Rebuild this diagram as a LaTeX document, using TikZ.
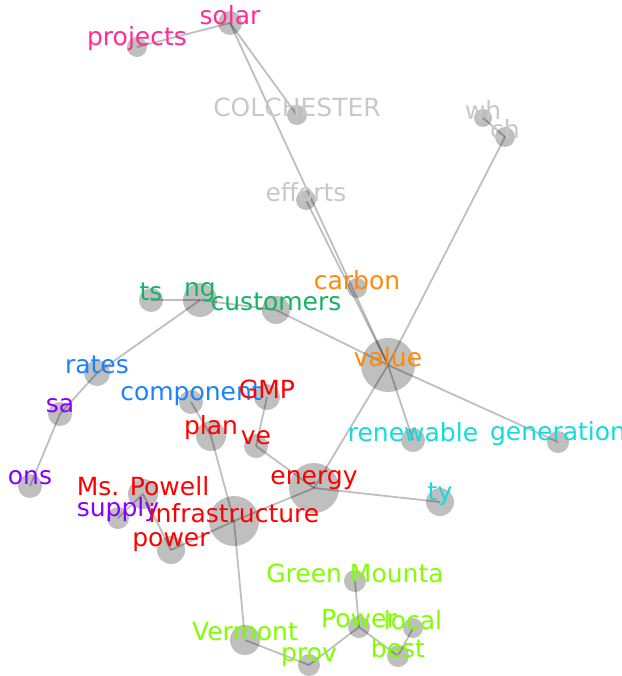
\documentclass[tikz,border=0pt]{standalone}
\usepackage{fontspec}
\setmainfont{DejaVu Sans}
\usepackage{xcolor}
\usepackage{tikz}
\usetikzlibrary{positioning,calc}

\definecolor{cpink}{HTML}{FF2D95}
\definecolor{cgrey}{HTML}{C8C8C8}
\definecolor{corange}{HTML}{FF8A0A}
\definecolor{cgreen}{HTML}{14B464}
\definecolor{cblue}{HTML}{1A82FF}
\definecolor{cpurple}{HTML}{8700FF}
\definecolor{cred}{HTML}{FF0000}
\definecolor{ccyan}{HTML}{14DCDC}
\definecolor{clime}{HTML}{80FF00}

\tikzset{
  dot/.style={circle,fill=black!25,inner sep=0pt},
  edge/.style={draw=black,opacity=0.25,line width=1.8pt},
  word/.style={inner sep=0pt,font=\fontsize{25}{30}\selectfont}
}

\begin{document}
\begin{tikzpicture}[x=1pt,y=-1pt]
  \useasboundingbox (0,0) rectangle (621,676);
  \clip (0,0) rectangle (621,676);
  % nodes: name/x/y/radius
  \foreach \n/\x/\y/\r in {solar/230/23/12, projects/137/47/10, colchester/297/115/10,
      efforts/306/200/10, wh/483/118/9, ch/505/137/10, carbon/357/288/10,
      ts/151/300/12, ng/200/300/17, customers/276/310/14, value/388/365/27,
      rates/97/373/13, sa/60/414/12, ons/30/486/12, component/191/402/12,
      gmp/267/397/13, plan/211/436/15, ve/256/446/12, renewable/413/440/12,
      generation/558/442/11, energy/314/488/25, ty/440/502/14, powell/143/494/15,
      supply/118/518/11, infra/234/521/25, power/171/550/14, greenmt/355/581/11,
      vermont/245/640/15, powerco/359/627/11, local/413/628/10, best/398/656/11,
      prov/309/665/11}
    \node[dot,minimum size=\r*2pt] (\n) at (\x,\y) {};
  % links
  \foreach \a/\b in {solar/projects, solar/colchester, solar/value, efforts/value,
      wh/ch, ch/value, ts/ng, ng/customers, customers/value, ng/rates, rates/sa,
      sa/ons, value/renewable, value/generation, value/energy, energy/ty,
      energy/ve, ve/gmp, energy/infra, component/plan, plan/infra, infra/vermont,
      infra/power, power/powell, powell/supply, vermont/prov, prov/powerco,
      powerco/greenmt, powerco/best, best/local}
    \draw[edge] (\a.center) -- (\b.center);
  % words
  \foreach \n/\t/\c in {solar/solar/cpink, projects/projects/cpink,
      colchester/COLCHESTER/cgrey, efforts/efforts/cgrey, wh/wh/cgrey, ch/ch/cgrey,
      carbon/carbon/corange, value/value/corange,
      ts/ts/cgreen, ng/ng/cgreen, customers/customers/cgreen,
      rates/rates/cblue, component/component/cblue,
      sa/sa/cpurple, ons/ons/cpurple, supply/supply/cpurple,
      gmp/GMP/cred, plan/plan/cred, ve/ve/cred, energy/energy/cred,
      powell/Ms. Powell/cred, infra/infrastructure/cred, power/power/cred,
      renewable/renewable/ccyan, generation/generation/ccyan, ty/ty/ccyan,
      greenmt/Green Mounta/clime, vermont/Vermont/clime, powerco/Power/clime,
      local/local/clime, best/best/clime, prov/prov/clime}
    \node[word,text=\c] (\n-w) at ([yshift=8pt]\n.center) {\t};
\end{tikzpicture}
\end{document}
